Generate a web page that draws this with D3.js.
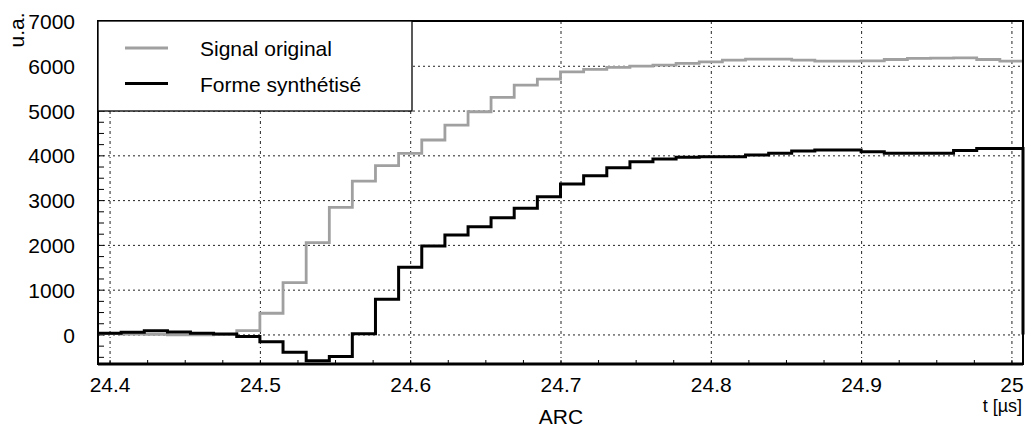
<!DOCTYPE html>
<html><head><meta charset="utf-8">
<script src="https://cdn.jsdelivr.net/npm/d3@7"></script>
<style>body{margin:0;background:#fff}svg text{font-family:"Liberation Sans",Arial,Helvetica,sans-serif}</style>
</head><body><svg id="c" width="1025" height="429"></svg>
<script>
// ---- data ----
const times = [24.3923,24.4077,24.4231,24.4385,24.4538,24.4692,24.4846,24.5000,24.5154,24.5308,
  24.5462,24.5615,24.5769,24.5923,24.6077,24.6231,24.6385,24.6538,24.6692,24.6846,
  24.7000,24.7154,24.7308,24.7462,24.7615,24.7769,24.7923,24.8077,24.8231,24.8385,
  24.8538,24.8692,24.8846,24.9000,24.9154,24.9308,24.9462,24.9615,24.9769,24.9923,25.0077];
const signalOriginal = [20,5,0,-10,-10,0,85,473,1156,2049,
  2839,3426,3768,4045,4342,4676,4973,5295,5569,5703,
  5866,5919,5964,5993,6016,6053,6089,6127,6150,6150,
  6127,6105,6105,6110,6140,6165,6170,6175,6140,6105,6105];
const formeSynthetise = [27,48,85,56,27,11,-48,-165,-400,-590,
  -490,15,786,1500,1975,2221,2406,2607,2817,3076,
  3359,3545,3724,3857,3917,3955,3969,3969,4007,4045,
  4096,4118,4118,4081,4045,4045,4045,4110,4150,4150,0];
const seriesNames = ["Signal original","Forme synthétisé"];
const xTicks = [24.4,24.5,24.6,24.7,24.8,24.9,25];
const xTickLabels = ["24.4","24.5","24.6","24.7","24.8","24.9","25"];
const yTicks = [0,1000,2000,3000,4000,5000,6000,7000];
const yTickLabels = ["0","1000","2000","3000","4000","5000","6000","7000"];
const yLabel = "u.a.";
const xLabel = "t [µs]";
const subLabel = "ARC";

// ---- layout ----
const L=98,R=1023,T=21,B=364;
const svg = d3.select("#c");
const x = d3.scaleLinear().domain([24.3923,25.0077]).range([L,R]);
const y = d3.scaleLinear().domain([-660,7000]).range([B,T]);
const FS = 21;

// grid
const gGrid = svg.append("g");
gGrid.append("g").attr("transform",`translate(0,${B})`)
  .call(d3.axisBottom(x).tickValues(xTicks).tickSize(-(B-T)).tickFormat(""))
  .call(g=>{g.select(".domain").remove();
    g.selectAll("line").attr("stroke","#222").attr("stroke-width",1).attr("stroke-dasharray","3,3,1,3");});
gGrid.append("g").attr("transform",`translate(${L},0)`)
  .call(d3.axisLeft(y).tickValues(yTicks.filter(v=>v<7000)).tickSize(-(R-L)).tickFormat(""))
  .call(g=>{g.select(".domain").remove();
    g.selectAll("line").attr("stroke","#222").attr("stroke-width",1).attr("stroke-dasharray","2,3");});

// minor ticks (inward)
svg.append("g").attr("transform",`translate(0,${B})`)
  .call(d3.axisBottom(x).tickValues(d3.range(24.4,25.001,0.025)).tickSize(-4).tickFormat(""))
  .call(g=>{g.select(".domain").remove(); g.selectAll("line").attr("stroke","#000").attr("stroke-width",1);});
svg.append("g").attr("transform",`translate(${L},0)`)
  .call(d3.axisLeft(y).tickValues(d3.range(-500,7001,250)).tickSize(-6).tickFormat(""))
  .call(g=>{g.select(".domain").remove(); g.selectAll("line").attr("stroke","#000").attr("stroke-width",1);});

// tick labels
svg.append("g").attr("transform",`translate(0,${B})`)
  .call(d3.axisBottom(x).tickValues(xTicks).tickSize(0).tickPadding(0).tickFormat((d,i)=>xTickLabels[i]))
  .call(g=>{g.select(".domain").remove();
    g.selectAll("text").attr("y",28).attr("dy",null).attr("font-size",FS).attr("fill","#000");});
svg.append("g").attr("transform",`translate(${L},0)`)
  .call(d3.axisLeft(y).tickValues(yTicks).tickSize(0).tickPadding(0).tickFormat((d,i)=>yTickLabels[i]))
  .call(g=>{g.select(".domain").remove();
    g.selectAll("text").attr("x",-23).attr("dy","0.36em").attr("font-size",FS).attr("fill","#000");});

// series
const line = vals => d3.line().x((d,i)=>x(times[i])).y(d=>y(d)).curve(d3.curveStepAfter)(vals);
svg.append("path").attr("d",line(signalOriginal)).attr("fill","none")
  .attr("stroke","#a0a0a0").attr("stroke-width",2.8);
svg.append("path").attr("d",line(formeSynthetise)).attr("fill","none")
  .attr("stroke","#000").attr("stroke-width",3);

// frame
svg.append("rect").attr("x",L).attr("y",T).attr("width",R-L).attr("height",B-T)
  .attr("fill","none").attr("stroke","#000").attr("stroke-width",2);
svg.append("line").attr("x1",L).attr("x2",R).attr("y1",B).attr("y2",B)
  .attr("stroke","#000").attr("stroke-width",3);

// legend
const lg = svg.append("g");
lg.append("rect").attr("x",L).attr("y",T).attr("width",314).attr("height",90)
  .attr("fill","#fff").attr("stroke","#000").attr("stroke-width",1.3);
[["#a0a0a0",48],["#000",83.5]].forEach(([c,yy],i)=>{
  lg.append("line").attr("x1",125).attr("x2",168).attr("y1",yy).attr("y2",yy)
    .attr("stroke",c).attr("stroke-width",3);
  lg.append("text").attr("x",200).attr("y",yy+8).attr("font-size",FS).attr("fill","#000").text(seriesNames[i]);
});

// axis labels
svg.append("text").attr("transform","translate(24,30) rotate(-90)").attr("text-anchor","middle")
  .attr("font-size",FS).attr("fill","#000").text(yLabel);
svg.append("text").attr("x",1022).attr("y",412).attr("text-anchor","end")
  .attr("font-size",18).attr("fill","#000").text(xLabel);
svg.append("text").attr("x",561).attr("y",424).attr("text-anchor","middle")
  .attr("font-size",FS).attr("fill","#000").text(subLabel);
</script></body></html>
